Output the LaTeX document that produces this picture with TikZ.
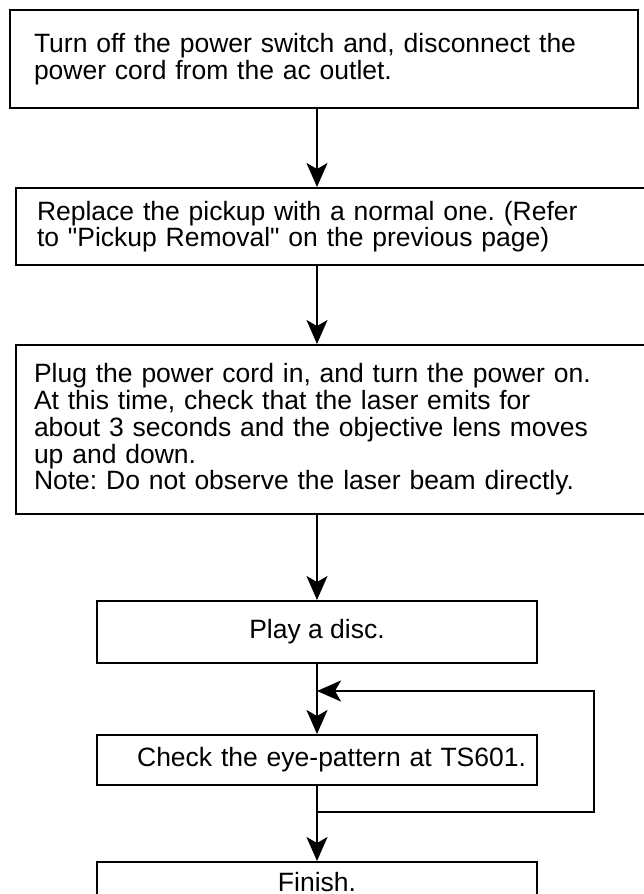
\documentclass[tikz,border=0pt]{standalone}
\usepackage{fontspec}
\setmainfont{Liberation Sans}[Ligatures=TeXOff]
\usetikzlibrary{arrows.meta,positioning}
\frenchspacing

\begin{document}
\begin{tikzpicture}[>={Stealth[length=24pt,width=21pt,inset=6pt]},
    stepbox/.style={draw,line width=2pt,inner ysep=0pt,font=\fontsize{26.5}{26.7}\selectfont},
    flow/.style={->,line width=2pt}]
    \path[use as bounding box,fill=white] (0,0) rectangle (644pt,-894pt);
    \clip (0,0) rectangle (644pt,-894pt);
    \node[stepbox,anchor=north west,align=left,text width=580pt,inner xsep=24pt,minimum height=98pt] (off) at (9pt,-9pt) {Turn off the power switch and, disconnect the\\power cord from the ac outlet.};
    \node[stepbox,below=78pt of off.south west,anchor=north west,xshift=6pt,align=left,text width=603pt,inner xsep=21pt,minimum height=77pt] (pickup) {Replace the pickup with a normal one. (Refer\\to "Pickup Removal" on the previous page)};
    \node[stepbox,below=78pt of pickup.south west,anchor=north west,align=left,text width=609pt,inner xsep=18pt,minimum height=169pt] (laser) {Plug the power cord in, and turn the power on.\\At this time, check that the laser emits for\\about 3 seconds and the objective lens moves\\up and down.\\Note: Do not observe the laser beam directly.};
    \node[stepbox,below=85pt of laser.south,xshift=-21.5pt,minimum width=440pt,minimum height=62pt] (play) {Play a disc.};
    \node[stepbox,below=70pt of play,align=right,text width=418pt,inner xsep=11pt,minimum height=50pt] (check) {Check the eye-pattern at TS601.};
    \node[stepbox,below=75pt of check,minimum width=440pt,minimum height=40pt,text depth=0pt] (finish) {Finish.};
    \draw[flow] (off.south -| play.north) -- (pickup.north -| play.north);
    \draw[flow] (pickup.south -| play.north) -- (laser.north -| play.north);
    \draw[flow] (laser.south -| play.north) -- (play.north);
    \draw[flow] (play) -- (check);
    \draw[flow] (check) -- (finish);
    % retry loop
    \coordinate[below=26pt of check.south] (back);
    \coordinate[below=27pt of play.south] (again);
    \draw[flow] (back) -- ++(277pt,0) |- (again);
\end{tikzpicture}
\end{document}
